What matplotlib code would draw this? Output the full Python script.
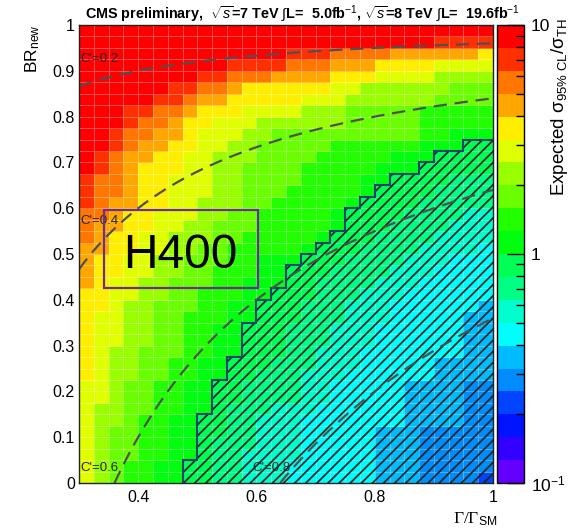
import colorsys
import numpy as np
import matplotlib
matplotlib.use("Agg")
import matplotlib.pyplot as plt
import matplotlib.colors as mcolors
from matplotlib.collections import LineCollection
from matplotlib.patches import PathPatch, Rectangle
from matplotlib.path import Path
from matplotlib.ticker import LogLocator, NullFormatter

plt.rcParams['font.family'] = ['Liberation Sans', 'DejaVu Sans']
plt.rcParams['mathtext.fontset'] = 'custom'
plt.rcParams['mathtext.rm'] = 'Liberation Sans'
plt.rcParams['mathtext.it'] = 'Liberation Sans:italic'
plt.rcParams['mathtext.bf'] = 'Liberation Sans:bold'
plt.rcParams['hatch.linewidth'] = 1.3

# --- data ---
gamma_edges = np.linspace(0.3, 1.0, 29)   # Gamma/Gamma_SM bins
br_edges = np.linspace(0.0, 1.0, 41)      # BR_new bins

# colour level of expected sigma95%CL/sigma_TH per bin
# level k covers 10^(-1+0.1k)..10^(-1+0.1(k+1)); chars 0-9,A-J = levels 0..19
# first string = top row (BR_new ~ 1), last = bottom row (BR_new ~ 0)
level_rows = [
    "JJJJJJJJJJJJJJJJJJJJJJJJJJJJ",
    "JJJJJJJJJJJJJJJJJJJJJJJJIIII",
    "JJJJJJJJJJJJJJIIIHHHHGGGGGGF",
    "JJJJJJJJJJIIIIHHHGGGFFFFEEEE",
    "JJJJJJJJIIHHHGGGGFFFEEEEDDDD",
    "JJJJJJIIHHGFFFFFFEEDDDDDDCCC",
    "JJJJJIIHGGFFFFFEEEDDDDDDCCCC",
    "JJJIIHHGFFFEEEEDDDCCCCCBBBBB",
    "JJJIHHGFFEEEDDDDDDCCCCCBBBBB",
    "JJIHHGGFEEEDDCCCCCCCCCCBBAAA",
    "JJIHGGFFEEDDCCCCCBBBBBBAAA99",
    "JIHGGFFEEDDDCCCCBBBBBAAA9999",
    "JIHGFFFEEDDCCCCBBBBBAAA99999",
    "IHHGFFEEEDDCCCCBBBBAA9999888",
    "IHHGFFEEEDDCCCBBBBBA99998888",
    "IHGGFFEEDDDCCBBBBBA999988888",
    "HHGFFEEEDDCCBBBBBA9999888877",
    "HGGFFEEDDCCCBBBBBA9998888777",
    "HGFFEEDDDCCBBBBBA99988887777",
    "GGFFEEDDCCBBBBBA999888877776",
    "GFFEEDDCCCBBAAA9998888777666",
    "GFFEEDDCCBBBAA99988887776666",
    "GFEEDDCCCBBAAA99888877766666",
    "FFEEDDCCBBBAA999888777666666",
    "FFEDDCCCBBAA9998887776666665",
    "FEEDDCCBBBAA9998887776666655",
    "FEEDDCCBBAA99988877766666655",
    "FEEDDCCBBAA99988877766666655",
    "FEDDCCCBBAA99988777666666655",
    "FEDDCCBBAA999888777666665555",
    "FEDDCCBBAA998887776666665555",
    "EEDCCBBAA9988887766666555544",
    "EEDCCBBAA9988887766666555544",
    "EDDCCBBAA9888777666666555544",
    "EDDCBBAA99887776666666555544",
    "EDCCBBAA99887776666655544444",
    "EDCCBBAA98887776666655544444",
    "EDCCBBAA98877776666655544444",
    "EDCBBAA998877766666655544444",
    "EDCBBAA998877766666655544443",
]

coupling_values = [0.2, 0.4, 0.6, 0.8]   # C' iso-lines
coupling_labels = ["C'=0.2", "C'=0.4", "C'=0.6", "C'=0.8"]

level_chars = "0123456789ABCDEFGHIJ"
levels = np.array([[level_chars.index(c) for c in row] for row in level_rows[::-1]])
assert levels.shape == (40, 28)
ratio = 10 ** (-1 + 0.1 * (levels + 0.5))


# ROOT "pretty palette" (hue 280 -> 0) with 20 contour levels
def root_color(k):
    idx = int((k + 0.99) * 50 / 20)
    if idx >= 49:
        return (1.0, 0.0, 0.0)
    hue = 280 - (idx + 1) * 5.6
    return colorsys.hls_to_rgb(hue / 360.0, 0.5, 1.0)


cmap = mcolors.ListedColormap([root_color(k) for k in range(20)])
norm = mcolors.LogNorm(vmin=0.1, vmax=10)

fig = plt.figure(figsize=(5.73, 5.28), dpi=100)
ax = fig.add_axes([0.1379, 0.0852, 0.7225, 0.8674])
cax = fig.add_axes([0.8674, 0.0852, 0.0471, 0.8674])

mesh = ax.pcolormesh(gamma_edges, br_edges, ratio, cmap=cmap, norm=norm,
                     edgecolors=(1, 1, 1, 0.3), linewidth=0.6, zorder=1)

# hatched excluded region (ratio < 1)
excluded = ratio < 1
ny, nx = excluded.shape
rects = []
segs = []
for i in range(ny):
    for j in range(nx):
        if not excluded[i, j]:
            continue
        x0, x1 = gamma_edges[j], gamma_edges[j + 1]
        y0, y1 = br_edges[i], br_edges[i + 1]
        rects.append(Path([(x0, y0), (x1, y0), (x1, y1), (x0, y1), (x0, y0)],
                          [Path.MOVETO, Path.LINETO, Path.LINETO, Path.LINETO, Path.CLOSEPOLY]))
        if j > 0 and not excluded[i, j - 1]:
            segs.append([(x0, y0), (x0, y1)])
        if j < nx - 1 and not excluded[i, j + 1]:
            segs.append([(x1, y0), (x1, y1)])
        if i > 0 and not excluded[i - 1, j]:
            segs.append([(x0, y0), (x1, y0)])
        if i < ny - 1 and not excluded[i + 1, j]:
            segs.append([(x0, y1), (x1, y1)])

ax.add_patch(PathPatch(Path.make_compound_path(*rects), fill=False, hatch='///',
                       edgecolor='#1c2a2a', linewidth=0, zorder=2))
ax.add_collection(LineCollection(segs, colors='#1e4470', linewidths=1.5,
                                 capstyle='projecting', zorder=3))

# C' iso-lines
for cp in coupling_values:
    g = np.linspace(max(cp ** 2, 0.3), 1.0, 300)
    ax.plot(g, 1 - cp ** 2 / g, color='#505050', lw=1.6, dashes=(6, 3.5), zorder=4)

label_xy = [(0.302, 0.925), (0.302, 0.573), (0.303, 0.033), (0.593, 0.033)]
for (lx, ly), txt in zip(label_xy, coupling_labels):
    ax.text(lx, ly, txt, fontsize=9.5, color='#262626', ha='left', va='center', zorder=5)

ax.set_xlim(0.3, 1.0)
ax.set_ylim(0, 1)
ax.set_xticks([0.4, 0.6, 0.8, 1.0])
ax.set_xticklabels(['0.4', '0.6', '0.8', '1'])
ax.set_yticks(np.linspace(0, 1, 11))
ax.set_yticklabels(['0', '0.1', '0.2', '0.3', '0.4', '0.5', '0.6', '0.7', '0.8', '0.9', '1'])
ax.tick_params(axis='both', length=0, labelsize=11.5)
ax.tick_params(axis='x', pad=5)
ax.tick_params(axis='y', pad=3)
for sp in ax.spines.values():
    sp.set_color('#222222')
    sp.set_linewidth(1.0)
    sp.set_zorder(6)

cb = fig.colorbar(mesh, cax=cax)
cb.set_ticks([0.1, 1, 10])
cb.set_ticklabels([r'$10^{-1}$', '1', '10'])
cb.ax.yaxis.set_minor_locator(LogLocator(base=10, subs=np.arange(2, 10)))
cb.ax.yaxis.set_minor_formatter(NullFormatter())
cb.ax.tick_params(which='major', direction='in', length=12, width=1, labelsize=12.5, pad=5)
cb.ax.tick_params(which='minor', direction='in', length=6, width=1)
cb.outline.set_linewidth(1.0)

fig.text(0.148, 0.964,
         r"CMS preliminary,  $\sqrt{s}$=7 TeV $\int$L=  5.0fb$^{-1}$, $\sqrt{s}$=8 TeV $\int$L=  19.6fb$^{-1}$",
         fontsize=10.4, fontweight='bold', ha='left', va='baseline')
fig.text(0.057, 0.953, r"BR$_{\rm new}$", rotation=90, ha='center', va='top', fontsize=12.5)
fig.text(0.8674, 0.008, r"Γ/Γ$_{\rm SM}$", family=['Liberation Serif', 'DejaVu Serif'],
         ha='right', va='baseline', fontsize=12.5)
fig.text(0.977, 0.966, r"Expected σ$_{95\%\ \rm CL}$/σ$_{\rm TH}$", rotation=90,
         ha='center', va='top', fontsize=13.5)

fig.add_artist(Rectangle((0.1815, 0.4545), 0.2688, 0.1477, transform=fig.transFigure,
                         fill=False, edgecolor='#6f2c91', lw=1.6))
fig.text(0.3154, 0.4924, "H400", fontsize=34.5, ha='center', va='baseline')

fig.savefig("out.png", dpi=100)
